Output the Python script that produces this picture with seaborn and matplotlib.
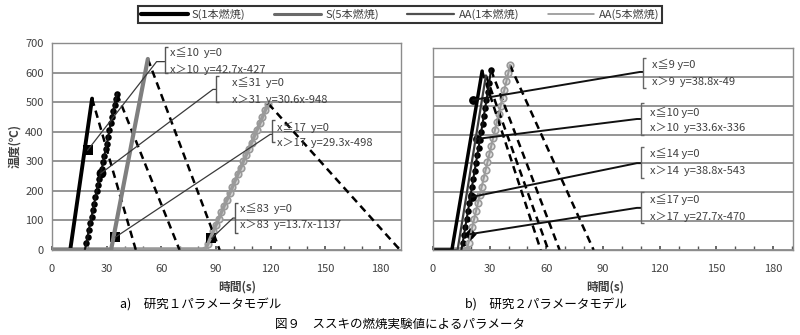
import numpy as np
import pandas as pd
import matplotlib
matplotlib.use("Agg")
import matplotlib.pyplot as plt
from matplotlib.lines import Line2D
import seaborn as sns

sns.set_theme(style="white")
plt.rcParams['font.family'] = ['Noto Sans CJK JP', 'DejaVu Sans']

# ---------------- data: panel a (研究1) ----------------
a_s1_x = [0, 10, 22]
a_s1_y = [0, 0, 512]
a_s1_dec_x = [22, 46]
a_s1_dec_y = [512, 0]

a_s5_x = [0, 32.4, 52.6]
a_s5_y = [0, 0, 646]
a_s5_dec_x = [52.6, 92]
a_s5_dec_y = [646, 0]

a_aa1_x = [18, 18.8, 19.5, 20.2, 21, 21.7, 22.4, 23.1, 23.8, 24.5, 25.2, 25.9, 26.6,
           27.3, 28, 28.7, 29.4, 30.1, 30.8, 31.5, 32.2, 32.9, 33.6, 34.3, 35, 35.7]
a_aa1_y = [0, 22, 45, 68, 92, 113, 135, 156, 178, 200, 221, 240, 258,
           275, 296, 318, 340, 360, 382, 405, 428, 450, 470, 492, 512, 528]
a_aa1_dec_x = [35.7, 70]
a_aa1_dec_y = [528, 0]

a_aa5_base_x = [0, 84]
a_aa5_base_y = [0, 0]
a_aa5_x = [84, 85.5, 87, 88.5, 90, 91.5, 93, 94.5, 96, 97.5, 99, 100.5, 102, 103.5,
           105, 106.5, 108, 109.5, 111, 112.5, 114, 115.5, 117, 118.7]
a_aa5_y = [0, 20, 42, 63, 85, 106, 128, 150, 170, 192, 213, 235, 256, 278,
           300, 320, 342, 363, 385, 406, 428, 450, 472, 495]
a_aa5_dec_x = [118.7, 191]
a_aa5_dec_y = [495, 0]

a_mark_sq_x = [19.5, 34.7, 87.5]
a_mark_sq_y = [337, 43, 39]
a_mark_big_x = [26.8]
a_mark_big_y = [259]

a_eq_lines = [("x≦10  y=0", "x＞10  y=42.7x-427"),
              ("x≦31  y=0", "x＞31  y=30.6x-948"),
              ("x≦17  y=0", "x＞17  y=29.3x-498"),
              ("x≦83  y=0", "x＞83  y=13.7x-1137")]

# ---------------- data: panel b (研究2) ----------------
b_s1_x = [0, 10, 26]
b_s1_y = [0, 0, 620]
b_s5_x = [0, 13, 28]
b_s5_y = [0, 0, 605]
b_aa1_x = [15, 15.7, 16.4, 17.1, 17.8, 18.5, 19.2, 19.9, 20.6, 21.3, 22, 22.7, 23.4,
           24.1, 24.8, 25.5, 26.2, 26.9, 27.6, 28.3, 29, 29.7, 30.7]
b_aa1_y = [0, 25, 52, 80, 108, 135, 162, 190, 218, 246, 274, 300, 328,
           355, 382, 410, 437, 465, 492, 520, 548, 580, 624]
b_aa5_base_x = [0, 18.5]
b_aa5_base_y = [0, 0]
b_aa5_x = [17.8, 18.8, 19.8, 20.8, 21.8, 22.8, 23.8, 24.8, 25.8, 26.8, 27.8, 28.8,
           29.8, 30.8, 31.8, 32.8, 33.8, 34.8, 35.8, 36.8, 37.8, 38.8, 39.8, 40.7]
b_aa5_y = [0, 25, 52, 80, 108, 136, 164, 192, 220, 248, 276, 304,
           332, 360, 388, 416, 444, 472, 500, 528, 556, 584, 612, 641]
b_dec_start_x = [26, 28, 30.7, 40.7]
b_dec_start_y = [620, 605, 624, 641]
b_dec_end_x = [57, 61, 67, 85]

b_mark_x = [21.2, 23.3, 20.6, 19.6]
b_mark_y = [520, 385, 184, 55]

b_eq_lines = [("x≦9 y=0", "x＞9  y=38.8x-49"),
              ("x≦10 y=0", "x＞10  y=33.6x-336"),
              ("x≦14 y=0", "x＞14  y=38.8x-543"),
              ("x≦17 y=0", "x＞17  y=27.7x-470")]

legend_labels = ["S(1本燃焼)", "S(5本燃焼)", "AA(1本燃焼)", "AA(5本燃焼)"]
y_ticks = [0, 100, 200, 300, 400, 500, 600, 700]
x_ticks = [0, 30, 60, 90, 120, 150, 180]

# ---------------- styles ----------------
C_S1 = "#000000"
C_S5 = "#7f7f7f"
C_AA1 = "#111111"
C_AA5 = "#9a9a9a"
GRID = "#8c8c8c"
TXT = "#404040"
DASH = (0, (3, 2))

fig = plt.figure(figsize=(8, 3.35), dpi=100)
W, H = 800, 335
axa = fig.add_axes([52 / W, (H - 250) / H, (401 - 52) / W, (250 - 43) / H])
axb = fig.add_axes([433 / W, (H - 250) / H, (793 - 433) / W, (250 - 48) / H])


def line(ax, x, y, **kw):
    sns.lineplot(x=x, y=y, ax=ax, sort=False, estimator=None, legend=False, **kw)


def style_axes(ax, xmax, show_y):
    ax.set_xlim(0, xmax)
    ax.set_ylim(0, 700)
    ax.set_yticks(y_ticks)
    ax.yaxis.grid(True, color=GRID, lw=1.3)
    ax.xaxis.grid(False)
    ax.set_axisbelow(True)
    ax.set_xticks(x_ticks)
    ax.set_xticks(np.arange(10, xmax, 10), minor=True)
    ax.tick_params(axis='x', which='both', direction='in', length=3, color="#555555",
                   labelsize=8, labelcolor=TXT, pad=10, bottom=True)
    ax.tick_params(axis='y', length=0, labelsize=8, labelcolor=TXT, pad=6)
    if not show_y:
        ax.set_yticklabels([])
    for s in ax.spines.values():
        s.set_color(GRID)
        s.set_linewidth(1.0)
    ax.set_xlabel("")
    ax.set_ylabel("")


def bracket(ax, bx, top, bottom, w, color, lw=1.0):
    ax.plot([bx + w, bx, bx, bx + w], [top, top, bottom, bottom], color=color, lw=lw,
            solid_capstyle='butt')


# ---------------- panel a ----------------
ax = axa
style_axes(ax, 191.5, True)
line(ax, a_aa5_base_x, a_aa5_base_y, color=C_AA5, lw=4.0)
line(ax, a_s1_dec_x, a_s1_dec_y, color="black", lw=1.8, linestyle=DASH)
line(ax, a_s5_dec_x, a_s5_dec_y, color="black", lw=1.8, linestyle=DASH)
line(ax, a_aa1_dec_x, a_aa1_dec_y, color="black", lw=1.8, linestyle=DASH)
line(ax, a_aa5_dec_x, a_aa5_dec_y, color="black", lw=1.8, linestyle=DASH)
line(ax, a_s1_x, a_s1_y, color=C_S1, lw=2.8)
line(ax, a_s5_x, a_s5_y, color=C_S5, lw=3.0)
line(ax, a_aa1_x, a_aa1_y, color=C_AA1, lw=1.5)
sns.scatterplot(x=a_aa1_x, y=a_aa1_y, ax=ax, color="black", s=22, linewidth=0, legend=False)
line(ax, a_aa5_x, a_aa5_y, color=C_AA5, lw=2.5)
sns.scatterplot(x=a_aa5_x, y=a_aa5_y, ax=ax, facecolor="#d9d9d9", edgecolor=C_AA5, s=22,
                linewidth=1.2, legend=False)

# callouts panel a (positions in data units)
a_calls = [
    # start, elbow, bracket x, top, bottom, text x, text y1, y2
    ((19.5, 337), (57.4, 637), 61.8, 688, 597, 64.5, 668, 610),
    ((26.8, 259), (88.3, 543), 89.9, 587, 499, 98.5, 566, 509),
    ((34.7, 43), (119.7, 391), 120.8, 438, 364, 123.5, 415, 361),
    ((87.5, 39), (99.3, 108), 100.4, 158, 57, 103.0, 142, 84),
]
for (st, el, bx, top, bot, tx, ty1, ty2), (l1, l2) in zip(a_calls, a_eq_lines):
    ax.plot([st[0], el[0], bx], [st[1], el[1], el[1]], color="#3a3a3a", lw=0.9)
    bracket(ax, bx, top, bot, 1.8, "#555555")
    ax.text(tx, ty1, l1, fontsize=8, color=TXT, va='center', ha='left')
    ax.text(tx, ty2, l2, fontsize=8, color=TXT, va='center', ha='left')
sns.scatterplot(x=a_mark_sq_x, y=a_mark_sq_y, ax=ax, marker='s', color="black", s=45,
                linewidth=0, legend=False)
sns.scatterplot(x=a_mark_big_x, y=a_mark_big_y, ax=ax, marker='o', color="black", s=50,
                linewidth=0, legend=False)

# ---------------- panel b ----------------
ax = axb
style_axes(ax, 190.5, False)
line(ax, b_aa5_base_x, b_aa5_base_y, color=C_AA5, lw=4.0)
for sx, sy, ex in zip(b_dec_start_x, b_dec_start_y, b_dec_end_x):
    line(ax, [sx, ex], [sy, 0], color="black", lw=1.8, linestyle=DASH)
line(ax, b_s5_x, b_s5_y, color="#3c3c3c", lw=1.6)
line(ax, b_s1_x, b_s1_y, color=C_S1, lw=2.5)
line(ax, b_aa1_x, b_aa1_y, color=C_AA1, lw=1.5)
sns.scatterplot(x=b_aa1_x, y=b_aa1_y, ax=ax, color="black", s=22, linewidth=0, legend=False)
line(ax, b_aa5_x, b_aa5_y, color=C_AA5, lw=1.5)
sns.scatterplot(x=b_aa5_x, y=b_aa5_y, ax=ax, facecolor="#e6e6e6", edgecolor=C_AA5, s=22,
                linewidth=1.2, legend=False)

b_calls = [
    ((21.2, 520), (109.5, 617), 111.1, 665, 561, 116.0, 644, 582),
    ((23.3, 385), (107.9, 454), 110.0, 509, 398, 115.0, 478, 423),
    ((20.6, 184), (107.9, 301), 110.0, 357, 249, 115.0, 336, 274),
    ((19.6, 55), (107.9, 146), 110.0, 201, 94, 115.0, 177, 114),
]
for (st, el, bx, top, bot, tx, ty1, ty2), (l1, l2) in zip(b_calls, b_eq_lines):
    ax.plot([st[0], el[0], bx], [st[1], el[1], el[1]], color="#111111", lw=1.4)
    bracket(ax, bx, top, bot, 1.8, "#666666")
    ax.text(tx, ty1, l1, fontsize=8, color=TXT, va='center', ha='left')
    ax.text(tx, ty2, l2, fontsize=8, color=TXT, va='center', ha='left')
sns.scatterplot(x=b_mark_x[:3], y=b_mark_y[:3], ax=ax, marker='o', color="black", s=40,
                linewidth=0, legend=False)
sns.scatterplot(x=b_mark_x[3:], y=b_mark_y[3:], ax=ax, marker='D', color="black", s=40,
                linewidth=0, legend=False)

# ---------------- legend ----------------
handles = [Line2D([], [], color=C_S1, lw=3.0),
           Line2D([], [], color="#6a6a6a", lw=2.2),
           Line2D([], [], color="#505050", lw=1.6),
           Line2D([], [], color="#8a8a8a", lw=1.1)]
leg = fig.legend(handles, legend_labels, ncol=4, loc='lower left',
                 bbox_to_anchor=(132 / W, (H - 29) / H, (668 - 132) / W, 24 / H),
                 mode='expand', frameon=True, fancybox=False, fontsize=8,
                 handlelength=4.2, handletextpad=0.4, borderpad=0.3,
                 labelcolor=TXT, columnspacing=1.0)
leg.get_frame().set_edgecolor("black")
leg.get_frame().set_linewidth(1.5)

# ---------------- labels ----------------
fig.text(15 / W, 1 - 146 / H, "温度(℃)", rotation=90, fontsize=8.5, fontweight='bold',
         color=TXT, ha='center', va='center')
fig.text(237 / W, 1 - 287 / H, "時間(s)", fontsize=8.5, fontweight='bold', color=TXT,
         ha='center', va='center')
fig.text(605 / W, 1 - 287 / H, "時間(s)", fontsize=8.5, fontweight='bold', color=TXT,
         ha='center', va='center')
fig.text(120 / W, 1 - 305 / H, "a)　研究１パラメータモデル", fontsize=9, color="black",
         ha='left', va='center')
fig.text(465 / W, 1 - 305 / H, "b)　研究２パラメータモデル", fontsize=9, color="black",
         ha='left', va='center')
fig.text(400 / W, 1 - 324 / H, "図９　ススキの燃焼実験値によるパラメータ", fontsize=9,
         color="black", ha='center', va='center')

fig.savefig("out.png", dpi=100)
